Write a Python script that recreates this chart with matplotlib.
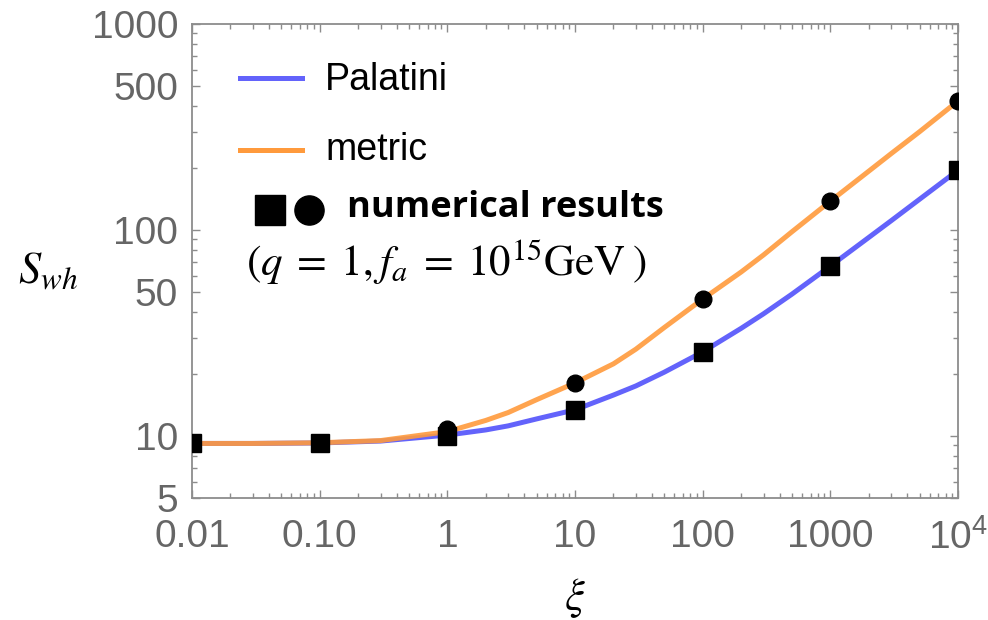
import numpy as np
import matplotlib.pyplot as plt
from matplotlib.ticker import LogLocator, FixedLocator, FixedFormatter, NullFormatter

# numerical results (markers)
xi_pts = [0.01, 0.1, 1, 10, 100, 1000, 1e4]
palatini_pts = [9.2, 9.25, 10.0, 13.4, 25.6, 66.8, 195]
metric_pts = [9.2, 9.25, 10.8, 18.1, 46.2, 138, 423]

# curves
xi_curve = [0.01, 0.03, 0.1, 0.3, 1, 2, 3, 5, 10, 20, 30, 50, 100, 200, 300, 500,
            1000, 2000, 3000, 5000, 1e4]
palatini_curve = [9.2, 9.2, 9.25, 9.45, 10.1, 10.7, 11.2, 12.1, 13.4, 15.8, 17.5, 20.4,
                  25.6, 33.3, 39.2, 48.8, 66.8, 92, 111, 141, 195]
metric_curve = [9.2, 9.2, 9.27, 9.5, 10.5, 11.9, 13.0, 15.0, 18.1, 22.4, 26.4, 33.6,
                46.2, 62.5, 75.7, 98, 138, 193, 235, 300, 423]

x_ticks = [0.01, 0.1, 1, 10, 100, 1000, 1e4]
x_labels = ['0.01', '0.10', '1', '10', '100', '1000', r'$\mathregular{10^4}$']
y_ticks = [5, 10, 50, 100, 500, 1000]
y_labels = ['5', '10', '50', '100', '500', '1000']

blue = '#6363fb'
orange = '#ff9a3c'
gray = '#8c8c8c'

plt.rcParams['font.family'] = ['Liberation Sans', 'DejaVu Sans']
plt.rcParams['mathtext.fontset'] = 'stix'

W, H = 988, 620
fig = plt.figure(figsize=(W / 100, H / 100), dpi=100)
ax = fig.add_axes([192 / W, 1 - 498 / H, 766 / W, 474 / H])

ax.plot(xi_curve, palatini_curve, color=blue, lw=3.6)
ax.plot(xi_curve, metric_curve, color=orange, lw=3.6, alpha=0.9)
ax.plot(xi_pts, metric_pts, 'o', color='black', ms=12, zorder=5)
ax.plot(xi_pts, palatini_pts, 's', color='black', ms=12.5, zorder=6)

ax.set_xscale('log')
ax.set_yscale('log')
ax.set_xlim(0.01, 1e4)
ax.set_ylim(5, 1000)

ax.xaxis.set_major_locator(FixedLocator(x_ticks))
ax.xaxis.set_major_formatter(FixedFormatter(x_labels))
ax.xaxis.set_minor_locator(LogLocator(base=10, subs=np.arange(2, 10), numticks=20))
ax.xaxis.set_minor_formatter(NullFormatter())
ax.yaxis.set_major_locator(FixedLocator(y_ticks))
ax.yaxis.set_major_formatter(FixedFormatter(y_labels))
ax.yaxis.set_minor_locator(LogLocator(base=10, subs=np.arange(1, 10), numticks=20))
ax.yaxis.set_minor_formatter(NullFormatter())

for s in ax.spines.values():
    s.set_color(gray)
    s.set_linewidth(1.3)
ax.tick_params(which='both', direction='in', top=True, right=True, color=gray, width=1.0)
ax.tick_params(which='major', length=5.5, labelsize=28, labelcolor='#666666', pad=10)
ax.tick_params(axis='x', which='major', pad=15)
ax.tick_params(which='minor', length=3.5)


def fx(x):
    return x / W


def fy(y):
    return 1 - y / H


# legend drawn by hand like the original
tr = fig.transFigure
fig.add_artist(plt.Line2D([fx(240), fx(302)], [fy(78), fy(78)], color=blue, lw=3.6, transform=tr))
fig.add_artist(plt.Line2D([fx(240), fx(302)], [fy(150), fy(150)], color=orange, lw=3.6, transform=tr))
fig.text(fx(325), fy(80), 'Palatini', fontsize=27, va='center', ha='left')
fig.text(fx(325), fy(150), 'metric', fontsize=27, va='center', ha='left')
fig.add_artist(plt.Line2D([fx(270)], [fy(210)], marker='s', ms=21, color='black', transform=tr))
fig.add_artist(plt.Line2D([fx(309)], [fy(210)], marker='o', ms=21, color='black', transform=tr))
fig.text(fx(347), fy(208), 'numerical results', fontsize=26, fontweight='bold',
         family=['Open Sans', 'DejaVu Sans'], va='center', ha='left')
fig.text(fx(246), fy(262), r'$(q\;=\;1, f_a\;=\;10^{15}\mathrm{GeV}\;)$', fontsize=31,
         va='center', ha='left')

fig.text(fx(48), fy(272), r'$S_{wh}$', fontsize=32, va='center', ha='center')
fig.text(fx(575), fy(598), r'$\xi$', fontsize=32, va='center', ha='center')

fig.savefig('out.png', dpi=100)
